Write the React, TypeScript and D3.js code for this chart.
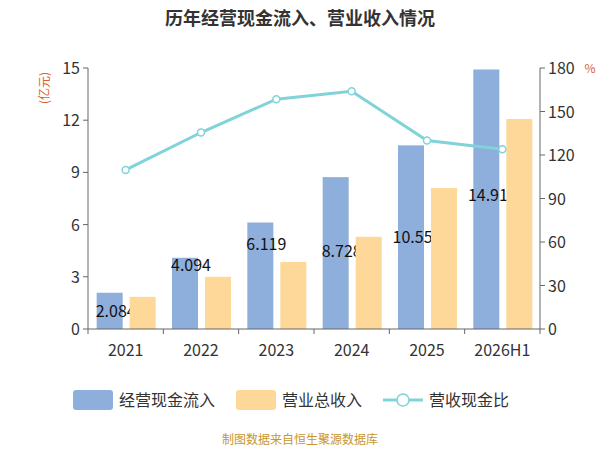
import * as d3 from "d3";

const years = ["2021", "2022", "2023", "2024", "2025", "2026H1"];
const cashIn = [2.084, 4.094, 6.119, 8.728, 10.555, 14.915];
const revenue = [1.85, 3.0, 3.85, 5.3, 8.1, 12.07];
const ratio = [109.7, 135.5, 158.5, 164, 130, 124];
const labelAt = [1.03, 3.68, 4.9, 4.5, 5.26, 7.7];
const leftTicks = [0, 3, 6, 9, 12, 15];
const rightTicks = [0, 30, 60, 90, 120, 150, 180];

const W = 600, H = 450;
const m = { top: 68, bottom: 329, left: 88, right: 540 };
const font = "'Noto Sans CJK SC', 'Noto Sans', sans-serif";

export default function App() {
  const x = d3.scaleBand().domain(years).range([m.left, m.right]);
  const yL = d3.scaleLinear().domain([0, 15]).range([m.bottom, m.top]);
  const yR = d3.scaleLinear().domain([0, 180]).range([m.bottom, m.top]);
  const bw = 26;
  const cx = (d: string) => x(d)! + x.bandwidth() / 2;
  const line = d3.line<number>().x((_, i) => cx(years[i])).y(v => yR(v));
  return (
    <svg width={W} height={H} style={{ position: "absolute", left: 0, top: 0, fontFamily: font }}>
      <rect width={W} height={H} fill="#fff" />
      <text x={300} y={25} textAnchor="middle" fontSize={18} fontWeight="bold" fill="#333">历年经营现金流入、营业收入情况</text>
      <text transform="translate(49,88) rotate(-90)" textAnchor="middle" fontSize={12} fill="#e0602a">(亿元)</text>
      <text x={590} y={73} textAnchor="middle" fontSize={12} fill="#e0602a">%</text>
      {leftTicks.map(t => (
        <g key={t}>
          <line x1={m.left - 5} x2={m.left} y1={yL(t)} y2={yL(t)} stroke="#666" />
          <text x={m.left - 8} y={yL(t) + 6} textAnchor="end" fontSize={16} fill="#333">{t}</text>
        </g>
      ))}
      {rightTicks.map(t => (
        <g key={t}>
          <line x1={m.right} x2={m.right + 5} y1={yR(t)} y2={yR(t)} stroke="#666" />
          <text x={m.right + 8} y={yR(t) + 6} fontSize={16} fill="#333">{t}</text>
        </g>
      ))}
      <line x1={m.left} x2={m.left} y1={m.top} y2={m.bottom} stroke="#666" />
      <line x1={m.right} x2={m.right} y1={m.top} y2={m.bottom} stroke="#666" />
      {years.map((d, i) => (
        <rect key={d} x={cx(d) - bw - 3} y={yL(cashIn[i])} width={bw} height={yL(0) - yL(cashIn[i])} fill="#8eaedc" />
      ))}
      {years.map((d, i) => (
        <text key={d} x={cx(d) - 10} y={yL(labelAt[i]) + 6} textAnchor="middle" fontSize={16} fill="#111">{cashIn[i].toFixed(3)}</text>
      ))}
      {years.map((d, i) => (
        <rect key={d} x={cx(d) + 4} y={yL(revenue[i])} width={bw} height={yL(0) - yL(revenue[i])} fill="#fdd898" />
      ))}
      <path d={line(ratio)!} fill="none" stroke="#80d3d8" strokeWidth={3} />
      {ratio.map((v, i) => (
        <circle key={i} cx={cx(years[i])} cy={yR(v)} r={3.5} fill="#fff" stroke="#80d3d8" strokeWidth={1.5} />
      ))}
      <line x1={m.left} x2={m.right} y1={m.bottom} y2={m.bottom} stroke="#666" />
      {years.map(d => (
        <g key={d}>
          <line x1={x(d)!} x2={x(d)!} y1={m.bottom} y2={m.bottom + 5} stroke="#666" />
          <text x={cx(d)} y={356} textAnchor="middle" fontSize={16} fill="#333">{d}</text>
        </g>
      ))}
      <line x1={m.right} x2={m.right} y1={m.bottom} y2={m.bottom + 5} stroke="#666" />
      <rect x={73} y={390} width={40} height={20} rx={3} fill="#8eaedc" />
      <text x={119} y={406} fontSize={16} fill="#333">经营现金流入</text>
      <rect x={236} y={390} width={40} height={20} rx={3} fill="#fdd898" />
      <text x={282} y={406} fontSize={16} fill="#333">营业总收入</text>
      <line x1={383} x2={423} y1={400} y2={400} stroke="#80d3d8" strokeWidth={3} />
      <circle cx={403} cy={400} r={6} fill="#fff" stroke="#80d3d8" strokeWidth={1.5} />
      <text x={429} y={406} fontSize={16} fill="#333">营收现金比</text>
      <text x={300} y={444} textAnchor="middle" fontSize={12} fill="#c8962e">制图数据来自恒生聚源数据库</text>
    </svg>
  );
}
